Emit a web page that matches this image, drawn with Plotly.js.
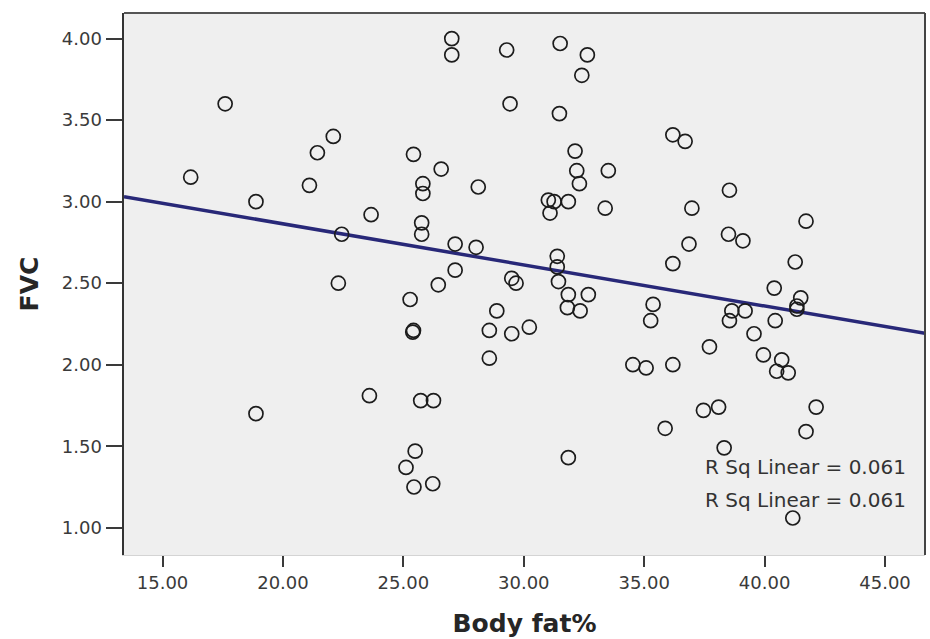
<!DOCTYPE html>
<html>
<head>
<meta charset="utf-8">
<script src="https://cdn.plot.ly/plotly-3.0.1.min.js"></script>
<style>
  html, body { margin: 0; padding: 0; background: #ffffff; }
  #chart { width: 930px; height: 639px; }
</style>
</head>
<body>
<div id="chart"></div>
<script>
// Body fat % against FVC, one circle per subject
const bodyFat = [
  16.17, 17.60, 18.88, 18.88, 21.10, 21.43, 22.09, 22.44, 22.30, 23.66,
  23.59, 25.28, 25.42, 25.81, 25.81, 25.76, 25.76, 25.39, 25.42, 25.72,
  26.25, 25.49, 25.11, 25.44, 26.22, 26.57, 26.45, 27.01, 27.01, 27.15,
  27.15, 28.02, 28.11, 28.57, 28.57, 28.88, 29.29, 29.43, 29.50, 29.68,
  29.50, 30.23, 31.02, 31.26, 31.85, 31.09, 31.51, 31.48, 31.39, 31.39,
  31.44, 31.85, 31.81, 31.85, 32.13, 32.20, 32.31, 32.34, 32.41, 32.64,
  32.68, 33.38, 33.51, 34.53, 35.08, 35.27, 35.37, 35.87, 36.19, 36.70,
  36.98, 36.86, 36.19, 36.19, 37.46, 37.71, 38.09, 38.32, 38.54, 38.50,
  38.64, 38.54, 39.10, 39.19, 39.56, 39.95, 40.40, 40.44, 40.71, 40.50,
  40.98, 41.27, 41.50, 41.34, 41.34, 41.72, 41.72, 42.14, 41.17
];
const fvc = [
  3.15, 3.60, 3.00, 1.70, 3.10, 3.30, 3.40, 2.80, 2.50, 2.92,
  1.81, 2.40, 3.29, 3.11, 3.05, 2.87, 2.80, 2.20, 2.21, 1.78,
  1.78, 1.47, 1.37, 1.25, 1.27, 3.20, 2.49, 4.00, 3.90, 2.74,
  2.58, 2.72, 3.09, 2.21, 2.04, 2.33, 3.93, 3.60, 2.53, 2.50,
  2.19, 2.23, 3.01, 3.00, 3.00, 2.93, 3.97, 3.54, 2.665, 2.60,
  2.51, 2.43, 2.35, 1.43, 3.31, 3.19, 3.11, 2.33, 3.775, 3.90,
  2.43, 2.96, 3.19, 2.00, 1.98, 2.27, 2.37, 1.61, 3.41, 3.37,
  2.96, 2.74, 2.62, 2.00, 1.72, 2.11, 1.74, 1.49, 3.07, 2.80,
  2.33, 2.27, 2.76, 2.33, 2.19, 2.06, 2.47, 2.27, 2.03, 1.96,
  1.95, 2.63, 2.41, 2.34, 2.36, 2.88, 1.59, 1.74, 1.06
];

// Linear fit (R squared 0.061)
const fitIntercept = 3.368;
const fitSlope = -0.0252;
const rSqLabels = ['R Sq Linear = 0.061', 'R Sq Linear = 0.061'];

// Axis ticks
const xTicks = [15, 20, 25, 30, 35, 40, 45];
const yTicks = [1.0, 1.5, 2.0, 2.5, 3.0, 3.5, 4.0];
const xRange = [13.4, 46.66];
const yRange = [0.833, 4.157];

const fitX = xRange.slice();
const fitY = fitX.map(v => fitIntercept + fitSlope * v);

const tickFont = { family: 'DejaVu Sans, Arial, sans-serif', size: 18, color: '#3a3a3a' };
const titleFont = { family: 'DejaVu Sans, Arial, sans-serif', size: 25, color: '#262626', weight: 'bold' };

const traces = [
  {
    x: fitX, y: fitY, type: 'scatter', mode: 'lines',
    line: { color: '#282878', width: 3.5 },
    hoverinfo: 'skip', showlegend: false
  },
  {
    x: bodyFat, y: fvc, type: 'scatter', mode: 'markers',
    marker: { symbol: 'circle-open', size: 14, color: '#1c1c1c', line: { width: 1.7, color: '#1c1c1c' } },
    showlegend: false
  }
];

const layout = {
  width: 930, height: 639,
  margin: { l: 124, r: 5, t: 13, b: 84 },
  paper_bgcolor: '#ffffff',
  plot_bgcolor: '#efefef',
  showlegend: false,
  xaxis: {
    range: xRange, tickvals: xTicks, tickformat: '.2f',
    showgrid: false, zeroline: false,
    showline: true, linecolor: '#d4d4d4', linewidth: 1,
    ticks: 'outside', ticklen: 11, tickwidth: 2, tickcolor: '#3a3a3a',
    tickfont: tickFont,
    title: { text: 'Body fat%', font: titleFont, standoff: 22 }
  },
  yaxis: {
    range: yRange, tickvals: yTicks, tickformat: '.2f',
    showgrid: false, zeroline: false,
    showline: true, linecolor: '#333333', linewidth: 2.5,
    ticks: 'outside', ticklen: 16, tickwidth: 2, tickcolor: '#3a3a3a',
    tickfont: tickFont,
    title: { text: 'FVC', font: titleFont, standoff: 16 }
  },
  shapes: [
    { type: 'line', xref: 'paper', yref: 'paper', x0: 0, x1: 1, y0: 1, y1: 1,
      line: { color: '#555555', width: 2 } },
    { type: 'line', xref: 'paper', yref: 'paper', x0: 1, x1: 1, y0: 0, y1: 1,
      line: { color: '#444444', width: 2 } }
  ],
  annotations: rSqLabels.map((t, i) => ({
    text: t, xref: 'x', yref: 'y', x: 37.45, y: 1.37 - i * 0.197,
    xanchor: 'left', yanchor: 'middle', showarrow: false,
    font: { family: 'DejaVu Sans, Arial, sans-serif', size: 20, color: '#333333' }
  }))
};

Plotly.newPlot('chart', traces, layout, { staticPlot: true, displayModeBar: false });
</script>
</body>
</html>
